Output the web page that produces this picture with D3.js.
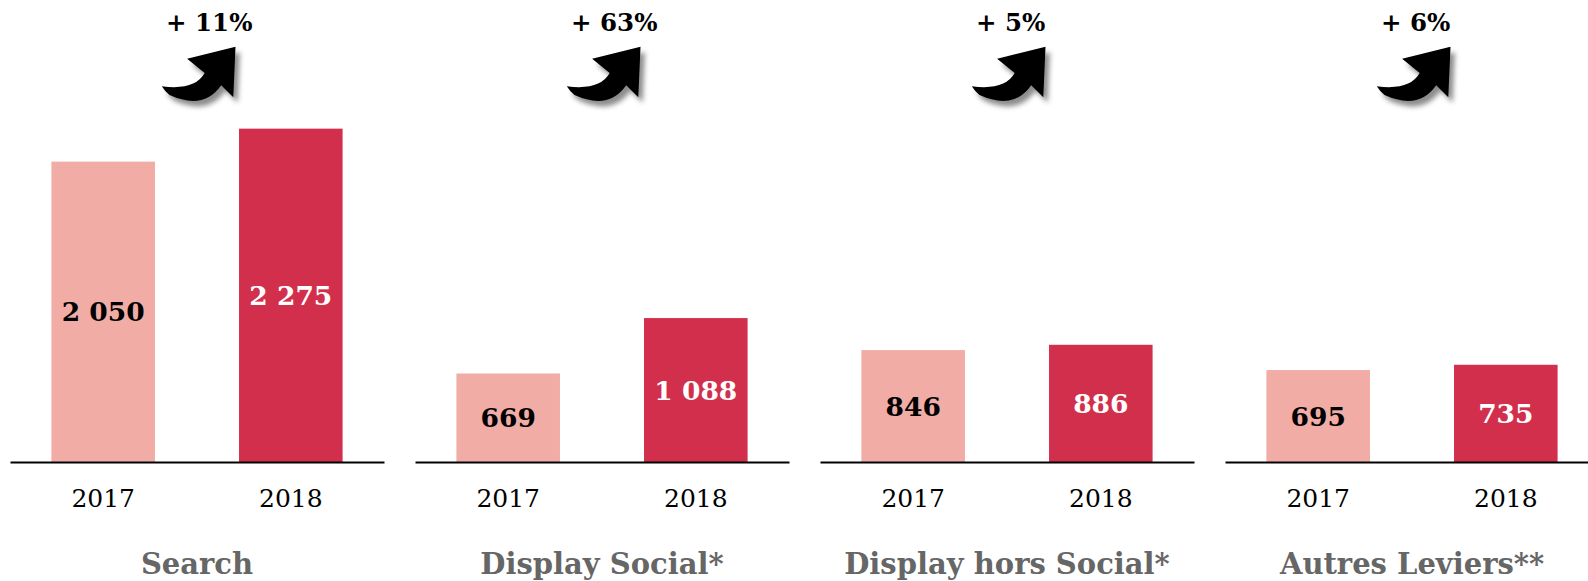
<!DOCTYPE html>
<html>
<head>
<meta charset="utf-8">
<script src="https://cdn.jsdelivr.net/npm/d3@7"></script>
<style>
  html, body { margin: 0; padding: 0; background: #fff; }
  svg { display: block; }
</style>
</head>
<body>
<div id="chart"></div>
<script>
// ---- Data ----
const categories = ["Search", "Display Social*", "Display hors Social*", "Autres Leviers**"];
const years = ["2017", "2018"];
const values2017 = [2050, 669, 846, 695];
const values2018 = [2275, 1088, 886, 735];
const valueLabels2017 = ["2 050", "669", "846", "695"];
const valueLabels2018 = ["2 275", "1 088", "886", "735"];
const growthLabels = ["+ 11%", "+ 63%", "+ 5%", "+ 6%"];
const yDomainMax = [2880, 3190, 3190, 3190];

// ---- Setup ----
const W = 1588, H = 581;
const serif = "'DejaVu Serif', Georgia, serif";
const colors = { "2017": "#F2ACA6", "2018": "#D22F4D" };
const labelColors = { "2017": "#000000", "2018": "#ffffff" };

const svg = d3.select("#chart").append("svg")
  .attr("width", W).attr("height", H);

const defs = svg.append("defs");
const f = defs.append("filter").attr("id", "shadow")
  .attr("x", "-30%").attr("y", "-30%").attr("width", "170%").attr("height", "170%");
f.append("feDropShadow").attr("dx", 4).attr("dy", 5).attr("stdDeviation", 2.5)
  .attr("flood-color", "#000").attr("flood-opacity", 0.45);

const panelScale = d3.scaleBand().domain(categories).range([0, 405 * categories.length]);

const x = d3.scaleBand().domain(years)
  .range([10, 384]).paddingInner(0.448).paddingOuter(0.2207).align(0.5);

const baseY = 462;
const arrowPath = "M75,7 L31,18 L47,31 Q38,47 8,43 Q11,48 15,51 Q46,65 62,42 L73,53 Z";

categories.forEach((cat, i) => {
  const g = svg.append("g").attr("transform", `translate(${panelScale(cat)},0)`);
  const y = d3.scaleLinear().domain([0, yDomainMax[i]]).range([baseY, 40]);
  const rows = [
    { year: "2017", value: values2017[i], label: valueLabels2017[i] },
    { year: "2018", value: values2018[i], label: valueLabels2018[i] }
  ];

  g.selectAll("rect.bar").data(rows).join("rect")
    .attr("class", "bar")
    .attr("x", d => x(d.year))
    .attr("width", x.bandwidth())
    .attr("y", d => y(d.value))
    .attr("height", d => y(0) - y(d.value))
    .attr("fill", d => colors[d.year]);

  g.selectAll("text.val").data(rows).join("text")
    .attr("class", "val")
    .attr("x", d => x(d.year) + x.bandwidth() / 2)
    .attr("y", d => (y(d.value) + y(0)) / 2)
    .attr("dy", "0.36em")
    .attr("text-anchor", "middle")
    .attr("font-family", serif)
    .attr("font-weight", "bold")
    .attr("font-size", 26.5)
    .attr("fill", d => labelColors[d.year])
    .text(d => d.label);

  // x axis
  const axis = g.append("g").attr("transform", `translate(0,${baseY})`)
    .call(d3.axisBottom(x).tickSize(0).tickSizeOuter(0).tickPadding(27));
  axis.select(".domain").attr("stroke", "#000").attr("stroke-width", 2);
  axis.selectAll(".tick text")
    .attr("font-family", serif)
    .attr("font-size", 25)
    .attr("fill", "#000");

  // category title
  g.append("text")
    .attr("x", (x("2017") + x("2018") + x.bandwidth()) / 2)
    .attr("y", 574)
    .attr("text-anchor", "middle")
    .attr("font-family", serif)
    .attr("font-weight", "bold")
    .attr("font-size", 29)
    .attr("fill", "#666666")
    .text(cat);

  // growth label
  g.append("text")
    .attr("x", 166)
    .attr("y", 31)
    .attr("font-family", serif)
    .attr("font-weight", "bold")
    .attr("font-size", 24.5)
    .attr("fill", "#000")
    .text(growthLabels[i]);

  // arrow
  g.append("path")
    .attr("transform", "translate(153,39) scale(1.1)")
    .attr("d", arrowPath)
    .attr("fill", "#000")
    .attr("filter", "url(#shadow)");
});
</script>
</body>
</html>
